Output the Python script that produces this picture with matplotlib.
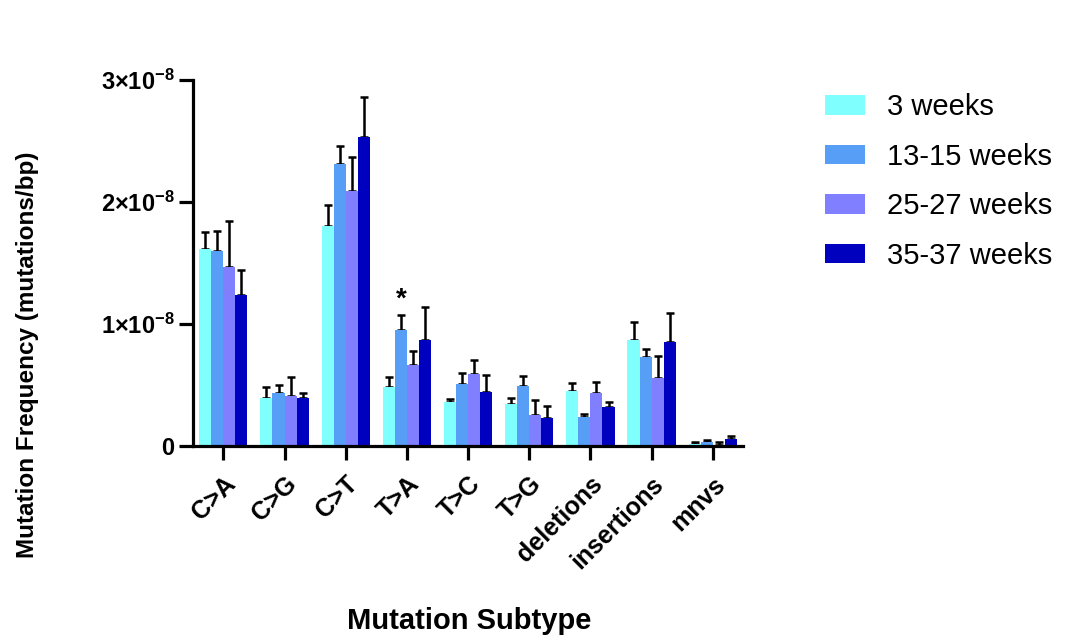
import numpy as np
import matplotlib
matplotlib.use('Agg')
import matplotlib.pyplot as plt
from matplotlib.patches import Patch

plt.rcParams['font.family'] = ['Liberation Sans', 'DejaVu Sans']
plt.rcParams['mathtext.fontset'] = 'custom'
plt.rcParams['mathtext.rm'] = 'Liberation Sans'
plt.rcParams['mathtext.bf'] = 'Liberation Sans:bold'

categories = ['C>A', 'C>G', 'C>T', 'T>A', 'T>C', 'T>G', 'deletions', 'insertions', 'mnvs']
groups = ['3 weeks', '13-15 weeks', '25-27 weeks', '35-37 weeks']
colors = ['#80FFFF', '#579EF6', '#7F7FFF', '#0000BF']

# means (x1e-8)
wk3 = [1.615, 0.395, 1.80, 0.48, 0.355, 0.345, 0.446, 0.87, 0.017]
wk13 = [1.60, 0.43, 2.31, 0.95, 0.51, 0.49, 0.235, 0.725, 0.03]
wk25 = [1.47, 0.41, 2.09, 0.665, 0.59, 0.25, 0.43, 0.556, 0.006]
wk35 = [1.24, 0.39, 2.53, 0.865, 0.445, 0.23, 0.32, 0.85, 0.055]
# upper error bar tops (x1e-8)
wk3_top = [1.75, 0.48, 1.975, 0.56, 0.385, 0.39, 0.515, 1.015, 0.028]
wk13_top = [1.76, 0.50, 2.46, 1.07, 0.60, 0.57, 0.262, 0.795, 0.044]
wk25_top = [1.845, 0.56, 2.37, 0.775, 0.70, 0.373, 0.526, 0.74, 0.03]
wk35_top = [1.445, 0.43, 2.86, 1.135, 0.583, 0.323, 0.355, 1.09, 0.083]

means = [wk3, wk13, wk25, wk35]
tops = [wk3_top, wk13_top, wk25_top, wk35_top]

fig = plt.figure(figsize=(10.65, 6.35), dpi=100)
ax = fig.add_axes([0.181, 0.298, 0.517, 0.576])

x = np.arange(len(categories))
w = 0.197
for i in range(4):
    m = np.array(means[i]) * 1e-8
    t = np.array(tops[i]) * 1e-8
    pos = x + (i - 1.5) * w
    ax.bar(pos, m, width=w, color=colors[i], edgecolor='none', zorder=2)
    ax.errorbar(pos, m, yerr=[np.zeros_like(m), t - m], fmt='none',
                ecolor='black', elinewidth=1.8, capsize=3, capthick=1.8, zorder=1)

# significance marker
ax.text(3 - 0.5 * w, 1.2e-8, '*', ha='center', va='center', fontsize=20, fontweight='bold')

ax.set_xlim(-0.5, 8.5)
ax.set_ylim(0, 3e-8)
ax.set_yticks([0, 1e-8, 2e-8, 3e-8])
ax.set_yticklabels(['0', r'$\mathbf{1{\times}10^{-8}}$', r'$\mathbf{2{\times}10^{-8}}$',
                    r'$\mathbf{3{\times}10^{-8}}$'], fontsize=17, fontweight='bold')
ax.set_xticks(x)
ax.set_xticklabels(categories, rotation=45, ha='right', rotation_mode='anchor',
                   fontsize=18, fontweight='bold')

for s in ['top', 'right']:
    ax.spines[s].set_visible(False)
for s in ['left', 'bottom']:
    ax.spines[s].set_linewidth(2.3)
ax.tick_params(axis='both', width=2.3, length=10, pad=3)
ax.tick_params(axis='x', pad=9)

ax.set_ylabel('Mutation Frequency (mutations/bp)', fontsize=17.5, fontweight='bold')
ax.yaxis.set_label_coords(-0.28, 0.249)
ax.set_xlabel('Mutation Subtype', fontsize=21, fontweight='bold')
ax.xaxis.set_label_coords(0.502, -0.442)

handles = [Patch(facecolor=c, edgecolor='none') for c in colors]
fig.legend(handles, groups, loc='upper left', bbox_to_anchor=(825 / 1065, 1 - 93 / 635),
           frameon=False, fontsize=21, handlelength=1.38, handleheight=0.66,
           labelspacing=0.74, handletextpad=0.76, borderpad=0, borderaxespad=0)

plt.savefig('out.png', dpi=100)
